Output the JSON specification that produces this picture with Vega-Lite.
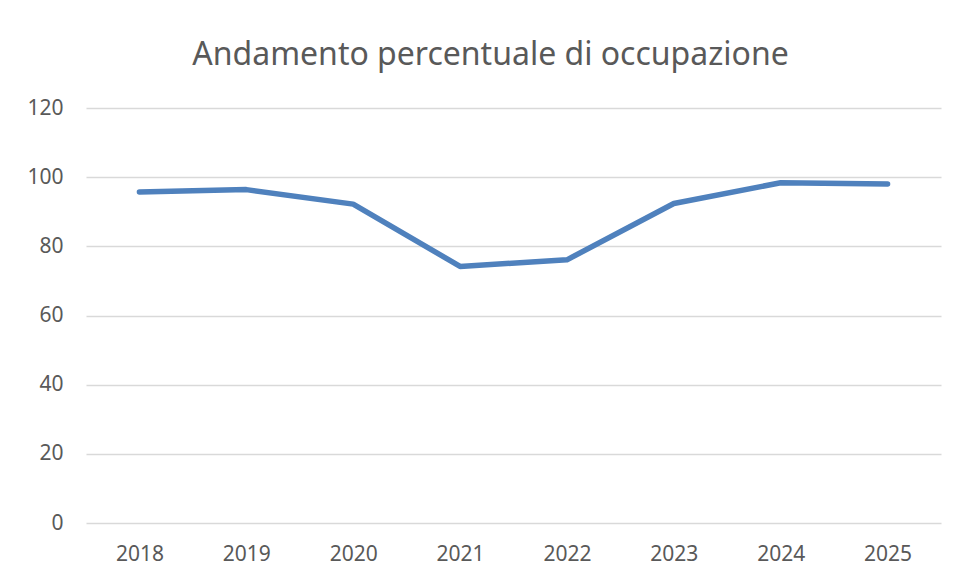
{
  "$schema": "https://vega.github.io/schema/vega-lite/v6.json",
  "width": 855,
  "height": 415,
  "autosize": "none",
  "padding": {"left": 86, "top": 108, "right": 19, "bottom": 56},
  "background": "white",
  "title": {
    "text": "Andamento percentuale di occupazione",
    "font": "Noto Sans",
    "fontSize": 32,
    "fontWeight": "normal",
    "color": "#595959",
    "anchor": "middle",
    "frame": "group",
    "baseline": "alphabetic",
    "offset": 43,
    "dx": -23,
    "dy": 43
  },
  "data": {
    "values": [
      {"anno": "2018", "valore": 95.7},
      {"anno": "2019", "valore": 96.4},
      {"anno": "2020", "valore": 92.2},
      {"anno": "2021", "valore": 74.2},
      {"anno": "2022", "valore": 76.1},
      {"anno": "2023", "valore": 92.4},
      {"anno": "2024", "valore": 98.4},
      {"anno": "2025", "valore": 98.0}
    ]
  },
  "mark": {"type": "line", "color": "#4f81bd", "strokeWidth": 5.5, "strokeCap": "round", "strokeJoin": "round"},
  "encoding": {
    "x": {
      "field": "anno",
      "type": "ordinal",
      "scale": {"type": "point", "padding": 0.5},
      "axis": {
        "title": null,
        "domain": false,
        "ticks": false,
        "grid": false,
        "labelAngle": 0,
        "labelFont": "Noto Sans",
        "labelFontSize": 21,
        "labelColor": "#595959",
        "labelPadding": 20
      }
    },
    "y": {
      "field": "valore",
      "type": "quantitative",
      "scale": {"domain": [0, 120], "nice": false, "zero": true},
      "axis": {
        "title": null,
        "values": [0, 20, 40, 60, 80, 100, 120],
        "domain": false,
        "ticks": false,
        "grid": true,
        "gridColor": "#d9d9d9",
        "gridWidth": 1.3,
        "labelFont": "Noto Sans",
        "labelFontSize": 21,
        "labelColor": "#595959",
        "labelPadding": 23
      }
    }
  },
  "config": {"view": {"stroke": null}}
}
